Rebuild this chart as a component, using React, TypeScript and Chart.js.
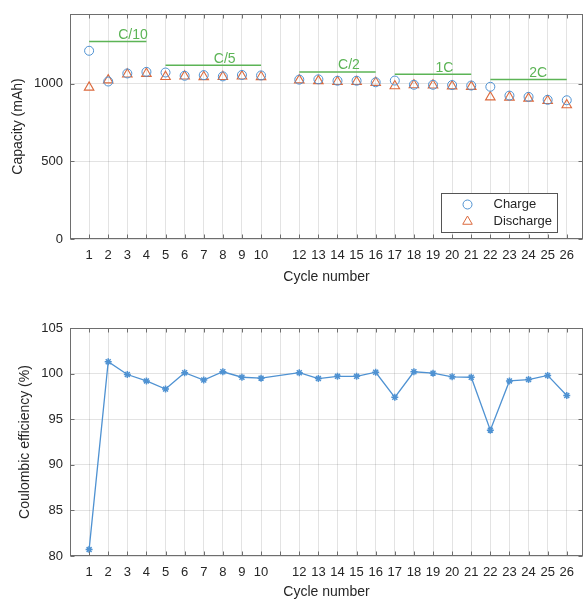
import React, { useEffect, useRef } from 'react';
import { Chart, registerables } from 'chart.js';

Chart.register(...registerables);

// ---------- DATA ----------
const cycles = [1, 2, 3, 4, 5, 6, 7, 8, 9, 10, 12, 13, 14, 15, 16, 17, 18, 19, 20, 21, 22, 23, 24, 25, 26];
const chargeCap = [1213, 1015, 1067, 1077, 1073, 1052, 1056, 1048, 1057, 1054, 1027, 1029, 1020, 1020, 1010, 1021, 994, 994, 992, 989, 981, 924, 916, 897, 894];
const dischargeCap = [977, 1024, 1062, 1066, 1046, 1049, 1045, 1046, 1049, 1045, 1024, 1019, 1013, 1013, 1008, 986, 992, 991, 985, 982, 914, 913, 906, 891, 864];
const coulombicEff = [80.7, 101.3, 99.9, 99.2, 98.3, 100.1, 99.3, 100.2, 99.6, 99.5, 100.1, 99.45, 99.7, 99.7, 100.15, 97.4, 100.2, 100.05, 99.65, 99.6, 93.8, 99.2, 99.35, 99.8, 97.6];

const xTicks = [1, 2, 3, 4, 5, 6, 7, 8, 9, 10, 11, 12, 13, 14, 15, 16, 17, 18, 19, 20, 21, 22, 23, 24, 25, 26];
const xTickLabels = ['1', '2', '3', '4', '5', '6', '7', '8', '9', '10', '', '12', '13', '14', '15', '16', '17', '18', '19', '20', '21', '22', '23', '24', '25', '26'];
const capTicks = [0, 500, 1000];
const ceTicks = [80, 85, 90, 95, 100, 105];

const rateLabels = ['C/10', 'C/5', 'C/2', '1C', '2C'];
const rateStart = [1, 5, 12, 17, 22];
const rateEnd = [4, 10, 16, 21, 26];
const rateLevel = [1273, 1119, 1077, 1062, 1028];
const rateLabelX = [3.3, 8.1, 14.6, 19.6, 24.5];

const legendLabels = ['Charge', 'Discharge'];

// ---------- STYLE ----------
const FONT = '"Liberation Sans", Arial, Helvetica, sans-serif';
const TEXT = '#262626';
const FRAME = '#6e6e6e';
const GRID = 'rgba(0,0,0,0.11)';
const BLUE = '#4f92d2';
const ORANGE = '#dc6a3e';
const GREEN = '#5cb456';

const framePlugin = {
  id: 'frame',
  afterDraw(chart: any) {
    const { ctx, chartArea: a, scales } = chart;
    ctx.save();
    ctx.strokeStyle = FRAME;
    ctx.lineWidth = 1;
    const L = Math.round(a.left) + 0.5;
    const R = Math.round(a.right) - 0.5;
    const T = Math.round(a.top) + 0.5;
    const B = Math.round(a.bottom) - 0.5;
    ctx.strokeRect(L, T, R - L, B - T);
    const tl = 4;
    ctx.beginPath();
    scales.x.ticks.forEach((t: any) => {
      const px = Math.round(scales.x.getPixelForValue(t.value)) + 0.5;
      ctx.moveTo(px, B); ctx.lineTo(px, B - tl);
      ctx.moveTo(px, T); ctx.lineTo(px, T + tl);
    });
    scales.y.ticks.forEach((t: any) => {
      const py = Math.round(scales.y.getPixelForValue(t.value)) + 0.5;
      ctx.moveTo(L, py); ctx.lineTo(L + tl, py);
      ctx.moveTo(R, py); ctx.lineTo(R - tl, py);
    });
    ctx.stroke();
    ctx.restore();
  },
};

const ratePlugin = {
  id: 'rates',
  afterDatasetsDraw(chart: any) {
    const { ctx, scales } = chart;
    ctx.save();
    ctx.strokeStyle = GREEN;
    ctx.fillStyle = GREEN;
    ctx.lineWidth = 1.5;
    ctx.font = `14px ${FONT}`;
    ctx.textAlign = 'center';
    ctx.textBaseline = 'alphabetic';
    rateLabels.forEach((lab, i) => {
      const x1 = scales.x.getPixelForValue(rateStart[i]);
      const x2 = scales.x.getPixelForValue(rateEnd[i]);
      const y = scales.y.getPixelForValue(rateLevel[i]);
      ctx.beginPath();
      ctx.moveTo(x1, y); ctx.lineTo(x2, y);
      ctx.stroke();
      ctx.fillText(lab, scales.x.getPixelForValue(rateLabelX[i]), y - 2.5);
    });
    ctx.restore();
  },
};

const legendPlugin = {
  id: 'boxLegend',
  afterDraw(chart: any) {
    const { ctx, chartArea: a } = chart;
    const w = 116, h = 39;
    const x0 = Math.round(a.right - 26 - w) + 0.5;
    const y0 = Math.round(a.bottom - 7 - h) + 0.5;
    ctx.save();
    ctx.fillStyle = '#ffffff';
    ctx.fillRect(x0, y0, w, h);
    ctx.strokeStyle = '#555555';
    ctx.lineWidth = 1;
    ctx.strokeRect(x0, y0, w, h);
    const rows = [y0 + 11, y0 + 28];
    const mx = x0 + 26;
    ctx.strokeStyle = BLUE;
    ctx.beginPath();
    ctx.arc(mx, rows[0], 4.5, 0, Math.PI * 2);
    ctx.stroke();
    ctx.strokeStyle = ORANGE;
    const r = 5.5;
    ctx.beginPath();
    ctx.moveTo(mx, rows[1] - r);
    ctx.lineTo(mx + r * Math.sin(2 * Math.PI / 3), rows[1] + r / 2);
    ctx.lineTo(mx - r * Math.sin(2 * Math.PI / 3), rows[1] + r / 2);
    ctx.closePath();
    ctx.stroke();
    ctx.fillStyle = TEXT;
    ctx.font = `13px ${FONT}`;
    ctx.textAlign = 'left';
    ctx.textBaseline = 'middle';
    legendLabels.forEach((l, i) => ctx.fillText(l, x0 + 52, rows[i]));
    ctx.restore();
  },
};

function xScale(height: number, titlePadBottom: number) {
  return {
    type: 'linear',
    min: 0,
    max: 26.85,
    afterBuildTicks: (s: any) => { s.ticks = xTicks.map((v) => ({ value: v })); },
    afterFit: (s: any) => {
      s.height = height;
      s.paddingLeft = 0;
      s.paddingRight = 0;
    },
    ticks: {
      autoSkip: false,
      maxRotation: 0,
      padding: 9,
      color: TEXT,
      font: { family: FONT, size: 13 },
      callback: (v: any) => {
        const i = xTicks.indexOf(Number(v));
        return i >= 0 ? xTickLabels[i] : '';
      },
    },
    grid: { color: GRID, drawTicks: false },
    border: { display: false },
    title: {
      display: true,
      text: 'Cycle number',
      color: TEXT,
      font: { family: FONT, size: 14 },
      padding: { top: 0, bottom: titlePadBottom },
    },
  };
}

function yScale(min: number, max: number, tickVals: number[], title: string, titlePadTop: number) {
  return {
    type: 'linear',
    min,
    max,
    afterBuildTicks: (s: any) => { s.ticks = tickVals.map((v) => ({ value: v })); },
    afterFit: (s: any) => {
      s.width = 70;
      s.paddingTop = 0;
      s.paddingBottom = 0;
    },
    ticks: {
      padding: 7,
      color: TEXT,
      font: { family: FONT, size: 13 },
      callback: (v: any) => String(v),
    },
    grid: { color: GRID, drawTicks: false },
    border: { display: false },
    title: {
      display: true,
      text: title,
      color: TEXT,
      font: { family: FONT, size: 14 },
      padding: { top: titlePadTop, bottom: 0 },
    },
  };
}

export default function App() {
  const topRef = useRef<HTMLCanvasElement>(null);
  const botRef = useRef<HTMLCanvasElement>(null);

  useEffect(() => {
    const top = new Chart(topRef.current as HTMLCanvasElement, {
      type: 'scatter',
      data: {
        datasets: [
          {
            label: legendLabels[0],
            data: cycles.map((c, i) => ({ x: c, y: chargeCap[i] })),
            pointStyle: 'circle',
            pointRadius: 4.5,
            pointBorderWidth: 1,
            borderColor: BLUE,
            backgroundColor: 'rgba(0,0,0,0)',
          },
          {
            label: legendLabels[1],
            data: cycles.map((c, i) => ({ x: c, y: dischargeCap[i] })),
            pointStyle: 'triangle',
            pointRadius: 5.5,
            pointBorderWidth: 1.1,
            borderColor: ORANGE,
            backgroundColor: 'rgba(0,0,0,0)',
          },
        ],
      },
      options: {
        animation: false,
        responsive: false,
        maintainAspectRatio: false,
        layout: { autoPadding: false, padding: { top: 14, right: 1, left: 0, bottom: 0 } },
        plugins: { legend: { display: false }, tooltip: { enabled: false } },
        scales: {
          x: xScale(51, 4.6) as any,
          y: yScale(0, 1450, capTicks, 'Capacity (mAh)', 10) as any,
        },
      },
      plugins: [framePlugin, ratePlugin, legendPlugin],
    });

    const bot = new Chart(botRef.current as HTMLCanvasElement, {
      type: 'line',
      data: {
        datasets: [
          {
            label: 'Coulombic efficiency',
            data: cycles.map((c, i) => ({ x: c, y: coulombicEff[i] })),
            borderColor: BLUE,
            backgroundColor: BLUE,
            borderWidth: 1.3,
            pointStyle: 'star',
            pointRadius: 3.5,
            pointBorderWidth: 1.5,
            pointBorderColor: BLUE,
            tension: 0,
            clip: false as any,
          },
        ],
      },
      options: {
        animation: false,
        responsive: false,
        maintainAspectRatio: false,
        layout: { autoPadding: false, padding: { top: 38, right: 1, left: 0, bottom: 0 } },
        plugins: { legend: { display: false }, tooltip: { enabled: false } },
        scales: {
          x: xScale(45, 0.6) as any,
          y: yScale(80, 105, ceTicks, 'Coulombic efficiency (%)', 16.6) as any,
        },
      },
      plugins: [framePlugin],
    });

    return () => {
      top.destroy();
      bot.destroy();
    };
  }, []);

  return (
    <div style={{ position: 'absolute', left: 0, top: 0, width: 584, height: 601, background: '#fff' }}>
      <canvas ref={topRef} width={584} height={290} style={{ position: 'absolute', left: 0, top: 0, display: 'block' }} />
      <canvas ref={botRef} width={584} height={311} style={{ position: 'absolute', left: 0, top: 290, display: 'block' }} />
    </div>
  );
}
